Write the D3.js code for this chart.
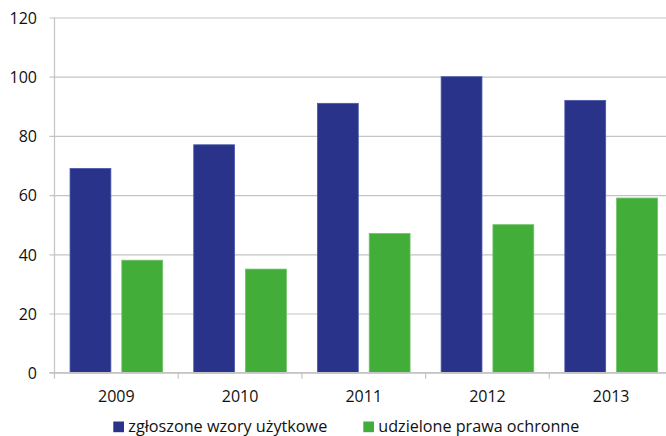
<!DOCTYPE html>
<html>
<head>
<meta charset="utf-8">
<script src="https://cdn.jsdelivr.net/npm/d3@7"></script>
<style>
  html, body { margin: 0; padding: 0; background: #fff; }
  svg { display: block; }
  text { font-family: "Open Sans", sans-serif; fill: #111; }
</style>
</head>
<body>
<svg id="chart" width="666" height="436"></svg>
<script>
const years = ["2009", "2010", "2011", "2012", "2013"];
const seriesNames = ["zgłoszone wzory użytkowe", "udzielone prawa ochronne"];
const applied = [69, 77, 91, 100, 92];
const granted = [38, 35, 47, 50, 59];
const yTicks = [0, 20, 40, 60, 80, 100, 120];
const colors = ["#283389", "#43ad3a"];
const strokes = ["#4a58a8", "#6cc064"];

const svg = d3.select("#chart");
const pLeft = 54.5, pRight = 673, pTop = 17.5, pBottom = 372.7;

const y = d3.scaleLinear().domain([0, 120]).range([pBottom, pTop]);
const x = d3.scaleBand().domain(years).range([pLeft, pRight]).paddingInner(0).paddingOuter(0);
const xs = d3.scaleBand().domain([0, 1]).range([0, x.bandwidth()]).paddingInner(0.2115).paddingOuter(0.3);

// gridlines + y axis labels
const yAxis = d3.axisLeft(y).tickValues(yTicks).tickSize(-(pRight - pLeft)).tickPadding(0).tickFormat(d => d);
const gy = svg.append("g").attr("transform", `translate(${pLeft},0)`).call(yAxis);
gy.select(".domain").remove();
gy.selectAll(".tick line").attr("stroke", "#c4c4c4").attr("stroke-width", 1.2).attr("x1", -5);
gy.selectAll(".tick text").attr("x", -17.5).attr("font-size", 16).attr("fill", "#111")
  .attr("dy", "0.36em").attr("text-anchor", "end");

// left axis line
svg.append("line").attr("x1", pLeft).attr("x2", pLeft).attr("y1", pTop).attr("y2", pBottom)
  .attr("stroke", "#c4c4c4").attr("stroke-width", 1.2);

// bars
const data = years.map((yr, i) => ({ year: yr, vals: [applied[i], granted[i]] }));
const groups = svg.append("g").selectAll("g").data(data).join("g")
  .attr("transform", d => `translate(${x(d.year)},0)`);
groups.selectAll("rect").data(d => d.vals.map((v, k) => ({ v, k }))).join("rect")
  .attr("x", d => xs(d.k))
  .attr("width", xs.bandwidth())
  .attr("y", d => y(d.v))
  .attr("height", d => y(0) - y(d.v))
  .attr("fill", d => colors[d.k])
  .attr("stroke", d => strokes[d.k])
  .attr("stroke-width", 0.8);

// x axis
const xAxis = d3.axisBottom(x).tickSize(0).tickPadding(0);
const gx = svg.append("g").attr("transform", `translate(0,${pBottom})`).call(xAxis);
gx.select(".domain").remove();
gx.selectAll(".tick text").attr("y", 29).attr("dy", 0).attr("font-size", 16).attr("fill", "#111");
svg.append("line").attr("x1", pLeft - 5).attr("x2", pRight).attr("y1", pBottom).attr("y2", pBottom)
  .attr("stroke", "#c4c4c4").attr("stroke-width", 1.2);
// category boundary ticks
const bounds = years.map(yr => x(yr)).concat([pRight]);
svg.append("g").selectAll("line").data(bounds).join("line")
  .attr("x1", d => d).attr("x2", d => d).attr("y1", pBottom).attr("y2", pBottom + 6)
  .attr("stroke", "#c4c4c4").attr("stroke-width", 1.2);

// legend
const legendItems = [
  { name: seriesNames[0], sx: 113.3, tx: 128.3, w: 199 },
  { name: seriesNames[1], sx: 363.3, tx: 378.3, w: 201 }
];
const lg = svg.append("g");
legendItems.forEach((it, i) => {
  lg.append("rect").attr("x", it.sx).attr("y", 421.5).attr("width", 10.7).attr("height", 10.7)
    .attr("fill", colors[i]);
  lg.append("text").attr("x", it.tx).attr("y", 431.5).attr("font-size", 16)
    .attr("textLength", it.w).attr("lengthAdjust", "spacingAndGlyphs").text(it.name);
});
</script>
</body>
</html>
